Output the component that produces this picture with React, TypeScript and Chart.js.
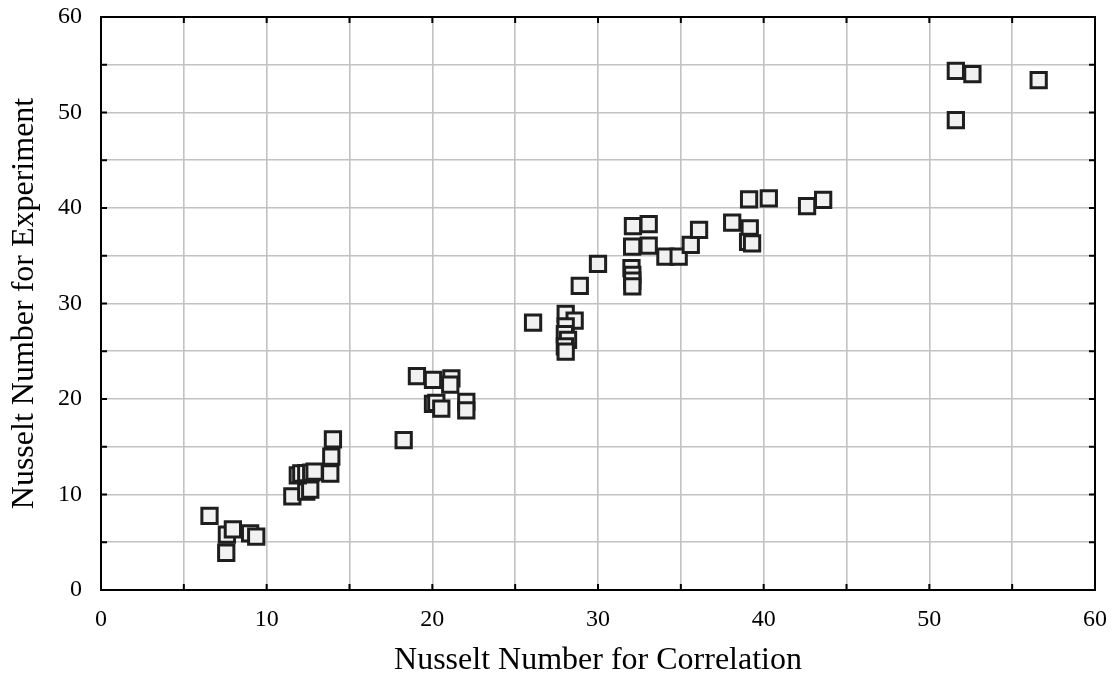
import React, { useEffect, useRef } from 'react';
import { Chart, registerables } from 'chart.js';

Chart.register(...registerables);

const xValues = [
  6.55, 7.56, 7.6, 7.96, 9.0, 9.37,
  11.55, 12.39, 12.63, 11.88, 12.09, 12.39, 12.69, 12.89, 13.84, 13.9, 14.0,
  18.27, 19.07, 20.04, 21.15, 21.08, 20.04, 20.24, 20.54, 22.05, 22.05,
  26.08, 28.05, 28.59, 28.05, 28.0, 28.19, 28.0, 28.05, 28.9, 30.0,
  32.02, 32.07, 32.07, 32.07, 32.11, 33.06, 32.06, 33.06, 34.07, 34.87,
  35.6, 36.1, 38.1, 39.16, 39.06, 39.3, 39.12, 40.31, 42.62, 43.59,
  51.6, 52.6, 56.6, 51.6,
];

const yValues = [
  7.75, 3.9, 5.8, 6.36, 5.93, 5.58,
  9.8, 10.3, 10.5, 12.0, 12.2, 12.25, 12.3, 12.4, 12.2, 13.96, 15.78,
  15.7, 22.4, 22.0, 22.17, 21.5, 19.5, 19.6, 19.0, 19.7, 18.8,
  28.0, 28.9, 28.2, 27.6, 26.8, 26.2, 25.5, 24.96, 31.85, 34.15,
  33.7, 33.0, 32.4, 31.8, 38.1, 38.3, 35.95, 36.06, 34.9, 34.9,
  36.13, 37.7, 38.47, 37.87, 36.45, 36.3, 40.9, 41.0, 40.2, 40.84,
  54.35, 54.03, 53.4, 49.2,
];

const tickLabels = [0, 10, 20, 30, 40, 50, 60];
const xTitle = 'Nusselt Number for Correlation';
const yTitle = 'Nusselt Number for Experiment';

const FONT = "'Liberation Serif', 'Times New Roman', serif";

const framePlugin = {
  id: 'frame',
  afterDraw(chart: any) {
    const { ctx, chartArea, scales } = chart;
    const { left, right, top, bottom } = chartArea;
    ctx.save();
    ctx.strokeStyle = '#000';
    ctx.lineWidth = 2;
    ctx.strokeRect(left, top, right - left, bottom - top);
    const tl = 6;
    ctx.beginPath();
    scales.x.ticks.forEach((t: any) => {
      const px = scales.x.getPixelForValue(t.value);
      ctx.moveTo(px, bottom);
      ctx.lineTo(px, bottom - tl);
      ctx.moveTo(px, top);
      ctx.lineTo(px, top + tl);
    });
    scales.y.ticks.forEach((t: any) => {
      const py = scales.y.getPixelForValue(t.value);
      ctx.moveTo(left, py);
      ctx.lineTo(left + tl, py);
      ctx.moveTo(right, py);
      ctx.lineTo(right - tl, py);
    });
    ctx.stroke();
    ctx.restore();
  },
};

export default function App() {
  const ref = useRef<HTMLCanvasElement>(null);

  useEffect(() => {
    if (!ref.current) return;
    const points = xValues.map((x, i) => ({ x, y: yValues[i] }));
    const tickCb = (v: any) => (tickLabels.includes(Number(v)) ? String(v) : '');
    const chart = new Chart(ref.current, {
      type: 'scatter',
      data: {
        datasets: [
          {
            data: points,
            pointStyle: 'rect',
            pointRadius: 10.8,
            pointHoverRadius: 10.8,
            pointBorderWidth: 3,
            borderColor: '#1e1e1e',
            backgroundColor: '#f1f1f1',
          },
        ],
      },
      options: {
        animation: false,
        responsive: false,
        devicePixelRatio: 1,
        layout: { padding: { top: 17, right: 21, left: 0, bottom: 0 } },
        plugins: { legend: { display: false }, tooltip: { enabled: false } },
        scales: {
          x: {
            type: 'linear',
            min: 0,
            max: 60,
            border: { display: false },
            grid: { color: '#c2c2c2', lineWidth: 1.6, drawTicks: false },
            ticks: {
              stepSize: 5,
              autoSkip: false,
              maxRotation: 0,
              padding: 15,
              color: '#000',
              font: { family: FONT, size: 24 },
              callback: tickCb,
            },
            title: {
              display: true,
              text: xTitle,
              color: '#000',
              font: { family: FONT, size: 32 },
              padding: { top: 0, bottom: 4 },
            },
            afterFit: (s: any) => {
              s.height = 94;
              s.paddingLeft = 0;
              s.paddingRight = 0;
            },
          },
          y: {
            type: 'linear',
            min: 0,
            max: 60,
            border: { display: false },
            grid: { color: '#c2c2c2', lineWidth: 1.6, drawTicks: false },
            ticks: {
              stepSize: 5,
              autoSkip: false,
              padding: 19,
              color: '#000',
              font: { family: FONT, size: 24 },
              callback: tickCb,
            },
            title: {
              display: true,
              text: yTitle,
              color: '#000',
              font: { family: FONT, size: 32 },
              padding: { top: 5, bottom: 0 },
            },
            afterFit: (s: any) => {
              s.width = 101;
              s.paddingTop = 0;
              s.paddingBottom = 0;
            },
          },
        },
      },
      plugins: [framePlugin],
    });
    return () => chart.destroy();
  }, []);

  return (
    <div style={{ position: 'absolute', left: 0, top: 0, width: 1116, height: 684, background: '#fff' }}>
      <canvas ref={ref} width={1116} height={684} />
    </div>
  );
}
